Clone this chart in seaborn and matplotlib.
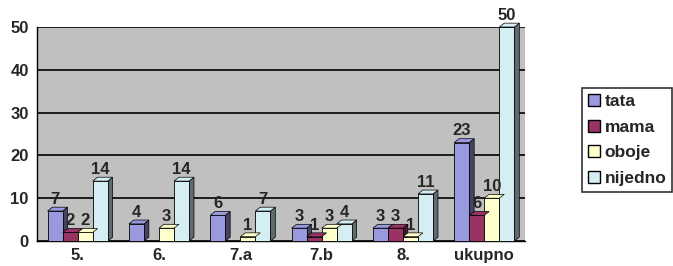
import numpy as np
import pandas as pd
import matplotlib.pyplot as plt
import matplotlib.colors as mcolors
from matplotlib.patches import Polygon, Patch
import seaborn as sns

# chart data
categories = ["5.", "6.", "7.a", "7.b", "8.", "ukupno"]
series = ["tata", "mama", "oboje", "nijedno"]
tata = [7, 4, 6, 3, 3, 23]
mama = [2, 0, 0, 1, 3, 6]
oboje = [2, 3, 1, 3, 1, 10]
nijedno = [14, 14, 7, 4, 11, 50]
colors = ["#9999DD", "#993366", "#FFFFCC", "#D4EEF4"]

df = pd.DataFrame({"kat": categories * 4,
                   "serija": np.repeat(series, len(categories)),
                   "broj": tata + mama + oboje + nijedno})

sns.set_style("white")
plt.rcParams["font.family"] = ["Liberation Sans", "DejaVu Sans"]

fig = plt.figure(figsize=(6.73, 2.66), dpi=100)
ax = fig.add_axes([37 / 673, 25 / 266, 488 / 673, 214 / 266])
ax.set_facecolor("#C0C0C0")

sns.barplot(data=df, x="kat", y="broj", hue="serija", hue_order=series,
            order=categories, palette=colors, width=0.74, saturation=1,
            edgecolor="black", linewidth=0.6, ax=ax, legend=False, zorder=3)

# fake 3D depth: side and top faces from the drawn bars
dx, dy = 0.06, 0.9
for cont, col in zip(ax.containers, colors):
    dark = np.array(mcolors.to_rgb(col)) * 0.45
    for p in cont.patches:
        p.set_clip_on(False)
        h = p.get_height()
        if h <= 0:
            continue
        x0, w = p.get_x(), p.get_width()
        side = Polygon([(x0 + w, 0), (x0 + w + dx, dy), (x0 + w + dx, h + dy), (x0 + w, h)],
                       closed=True, facecolor=dark, edgecolor="black", lw=0.5, zorder=2.9,
                       clip_on=False)
        top = Polygon([(x0, h), (x0 + dx, h + dy), (x0 + w + dx, h + dy), (x0 + w, h)],
                      closed=True, facecolor=col, edgecolor="black", lw=0.5, zorder=3.1,
                      clip_on=False)
        ax.add_patch(side)
        ax.add_patch(top)
    labels = [f"{v:g}" if v > 0 else "" for v in cont.datavalues]
    ax.bar_label(cont, labels=labels, padding=3, fontsize=12, fontweight="bold", zorder=5)

ax.set_ylim(0, 50)
ax.set_xlim(-0.5, 5.5)
ax.set_yticks([0, 10, 20, 30, 40, 50])
ax.yaxis.grid(True, color="black", linewidth=1.2, zorder=0)
ax.set_axisbelow(True)
ax.set_xlabel("")
ax.set_ylabel("")
ax.set_xticks(range(len(categories)))
ax.set_xticks(np.arange(0.5, 6, 1), minor=True)
ax.tick_params(axis="x", which="major", length=0, pad=5, labelsize=12)
ax.tick_params(axis="x", which="minor", length=5, width=1, direction="out", color="black")
ax.tick_params(axis="y", length=4, width=1, color="black", labelsize=12, direction="out", pad=2)
for lbl in ax.get_xticklabels() + ax.get_yticklabels():
    lbl.set_fontweight("bold")

for s in ["top", "right"]:
    ax.spines[s].set_visible(False)
for s in ["left", "bottom"]:
    ax.spines[s].set_color("black")
    ax.spines[s].set_linewidth(1)

handles = [Patch(facecolor=c, edgecolor="black", label=s) for s, c in zip(series, colors)]
leg = fig.legend(handles=handles, loc="center left", bbox_to_anchor=(582 / 673, 1 - 140 / 266),
                 frameon=True, fancybox=False, edgecolor="black", handlelength=0.7,
                 handleheight=0.7, handletextpad=0.25, borderpad=0.35, labelspacing=0.6,
                 borderaxespad=0, prop={"weight": "bold", "size": 12.5})
leg.get_frame().set_linewidth(1.2)

fig.savefig("out.png", dpi=100)
